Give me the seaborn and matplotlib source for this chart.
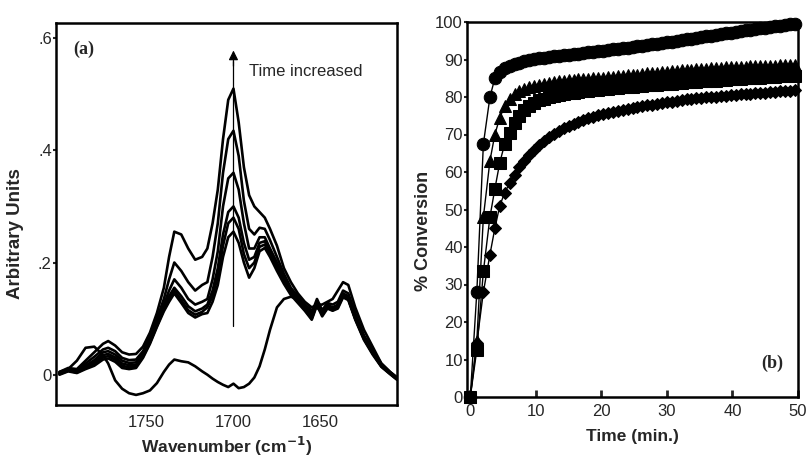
import matplotlib
matplotlib.use("Agg")
import matplotlib.pyplot as plt
import numpy as np
import pandas as pd
import seaborn as sns

# ---- (a) FTIR spectra -------------------------------------------------
wavenumber = [1800, 1795, 1790, 1785, 1780, 1775, 1772, 1768, 1764, 1760,
              1756, 1752, 1748, 1744, 1740, 1737, 1734, 1730, 1726, 1722,
              1718, 1715, 1712, 1709, 1706, 1703, 1700, 1697, 1694, 1691,
              1688, 1685, 1682, 1679, 1675, 1671, 1667, 1663, 1659, 1655,
              1652, 1649, 1646, 1643, 1640, 1637, 1634, 1630, 1625, 1620,
              1615, 1610, 1606]

spec_initial = [0.003, 0.010, 0.025, 0.048, 0.050, 0.035, 0.020, -0.010, -0.025, -0.033,
                -0.036, -0.033, -0.028, -0.015, 0.005, 0.018, 0.027, 0.024, 0.022, 0.015,
                0.006, 0.000, -0.007, -0.013, -0.018, -0.022, -0.016, -0.024, -0.022, -0.016,
                -0.005, 0.015, 0.045, 0.080, 0.120, 0.135, 0.139, 0.135, 0.125, 0.115,
                0.120, 0.110, 0.120, 0.115, 0.122, 0.140, 0.135, 0.100, 0.064, 0.038,
                0.015, 0.002, -0.008]

spec_t1 = [0.000, 0.006, 0.003, 0.010, 0.016, 0.027, 0.029, 0.023, 0.012, 0.010,
           0.012, 0.030, 0.055, 0.085, 0.113, 0.130, 0.145, 0.128, 0.110, 0.102,
           0.108, 0.110, 0.130, 0.160, 0.210, 0.245, 0.255, 0.235, 0.200, 0.173,
           0.190, 0.220, 0.226, 0.210, 0.185, 0.162, 0.142, 0.128, 0.114, 0.098,
           0.124, 0.104, 0.118, 0.114, 0.118, 0.138, 0.133, 0.098, 0.062, 0.036,
           0.014, 0.001, -0.009]

spec_t2 = [0.001, 0.007, 0.004, 0.012, 0.019, 0.031, 0.033, 0.027, 0.016, 0.013,
           0.015, 0.032, 0.057, 0.087, 0.116, 0.135, 0.150, 0.133, 0.115, 0.107,
           0.112, 0.120, 0.140, 0.175, 0.230, 0.270, 0.280, 0.260, 0.215, 0.190,
           0.200, 0.228, 0.232, 0.215, 0.190, 0.166, 0.145, 0.130, 0.116, 0.100,
           0.126, 0.106, 0.120, 0.116, 0.120, 0.140, 0.135, 0.100, 0.064, 0.038,
           0.015, 0.002, -0.008]

spec_t3 = [0.002, 0.008, 0.005, 0.014, 0.022, 0.035, 0.037, 0.031, 0.020, 0.017,
           0.018, 0.035, 0.060, 0.090, 0.120, 0.140, 0.155, 0.140, 0.122, 0.113,
           0.118, 0.125, 0.150, 0.190, 0.250, 0.290, 0.300, 0.280, 0.235, 0.205,
           0.210, 0.235, 0.238, 0.220, 0.195, 0.170, 0.148, 0.132, 0.118, 0.103,
           0.128, 0.108, 0.122, 0.118, 0.123, 0.142, 0.137, 0.102, 0.066, 0.040,
           0.016, 0.003, -0.007]

spec_t4 = [0.003, 0.009, 0.006, 0.016, 0.026, 0.040, 0.042, 0.036, 0.025, 0.021,
           0.022, 0.038, 0.064, 0.095, 0.125, 0.150, 0.170, 0.155, 0.135, 0.125,
           0.130, 0.135, 0.170, 0.220, 0.300, 0.350, 0.360, 0.330, 0.270, 0.225,
           0.225, 0.245, 0.245, 0.225, 0.200, 0.175, 0.150, 0.135, 0.120, 0.105,
           0.130, 0.110, 0.125, 0.120, 0.125, 0.145, 0.140, 0.105, 0.068, 0.042,
           0.018, 0.004, -0.006]

spec_t5 = [0.005, 0.010, 0.008, 0.020, 0.032, 0.045, 0.048, 0.042, 0.030, 0.026,
           0.027, 0.042, 0.068, 0.100, 0.135, 0.170, 0.200, 0.185, 0.165, 0.150,
           0.160, 0.165, 0.210, 0.270, 0.360, 0.420, 0.435, 0.390, 0.310, 0.260,
           0.250, 0.262, 0.260, 0.240, 0.210, 0.180, 0.155, 0.140, 0.125, 0.110,
           0.135, 0.115, 0.128, 0.125, 0.130, 0.150, 0.145, 0.110, 0.070, 0.045,
           0.020, 0.005, -0.005]

spec_t6 = [0.005, 0.012, 0.010, 0.025, 0.040, 0.055, 0.060, 0.052, 0.040, 0.036,
           0.037, 0.050, 0.075, 0.110, 0.155, 0.210, 0.255, 0.250, 0.225, 0.205,
           0.210, 0.225, 0.270, 0.330, 0.420, 0.490, 0.510, 0.450, 0.370, 0.320,
           0.300, 0.290, 0.280, 0.260, 0.230, 0.190, 0.165, 0.145, 0.130, 0.120,
           0.125, 0.125, 0.130, 0.135, 0.150, 0.165, 0.160, 0.120, 0.080, 0.050,
           0.020, 0.005, -0.005]

spectra = [spec_initial, spec_t1, spec_t2, spec_t3, spec_t4, spec_t5, spec_t6]

# ---- (b) conversion vs time --------------------------------------------
time_min = [0, 1, 2, 3, 3.75, 4.5, 5.25, 6, 6.75, 7.5,
            8.25, 9, 9.75, 10.5, 11.25, 12, 12.75, 13.5, 14.25, 15,
            15.75, 16.5, 17.25, 18, 18.75, 19.5, 20.25, 21, 21.75, 22.5,
            23.25, 24, 24.75, 25.5, 26.25, 27, 27.75, 28.5, 29.25, 30,
            30.75, 31.5, 32.25, 33, 33.75, 34.5, 35.25, 36, 36.75, 37.5,
            38.25, 39, 39.75, 40.5, 41.25, 42, 42.75, 43.5, 44.25, 45,
            45.75, 46.5, 47.25, 48, 48.75, 49.5]

conv_circle = [0, 28, 67.5, 80, 85, 86.8, 87.8, 88.4, 88.8, 89.2,
               89.5, 89.8, 90.1, 90.3, 90.5, 90.7, 90.9, 91.0, 91.2, 91.3,
               91.5, 91.6, 91.8, 91.9, 92.1, 92.2, 92.4, 92.5, 92.7, 92.9,
               93.0, 93.2, 93.4, 93.5, 93.7, 93.9, 94.1, 94.2, 94.4, 94.6,
               94.8, 95.0, 95.2, 95.4, 95.6, 95.8, 96.0, 96.2, 96.4, 96.6,
               96.8, 97.0, 97.2, 97.4, 97.6, 97.8, 98.0, 98.2, 98.3, 98.5,
               98.7, 98.9, 99.0, 99.2, 99.4, 99.6]

conv_triangle = [0, 15, 48, 63, 70, 74.5, 77.5, 79.5, 80.7, 81.5,
                 82.1, 82.6, 83.0, 83.3, 83.6, 83.8, 84.0, 84.2, 84.3, 84.5,
                 84.6, 84.7, 84.8, 84.9, 85.0, 85.1, 85.2, 85.3, 85.4, 85.5,
                 85.7, 85.8, 85.9, 86.0, 86.2, 86.3, 86.4, 86.5, 86.6, 86.8,
                 86.9, 87.0, 87.1, 87.2, 87.3, 87.4, 87.5, 87.6, 87.7, 87.8,
                 87.8, 87.9, 88.0, 88.0, 88.1, 88.1, 88.2, 88.2, 88.3, 88.3,
                 88.4, 88.4, 88.5, 88.5, 88.6, 88.6]

conv_square = [0, 12.6, 33.5, 48, 55.5, 62.5, 67.5, 70.5, 73, 75,
               76.5, 77.5, 78.4, 79.1, 79.6, 80.0, 80.3, 80.6, 80.8, 81.0,
               81.2, 81.4, 81.5, 81.7, 81.8, 82.0, 82.1, 82.2, 82.3, 82.5,
               82.6, 82.7, 82.8, 82.9, 83.0, 83.1, 83.2, 83.3, 83.4, 83.5,
               83.6, 83.7, 83.8, 83.9, 84.0, 84.1, 84.2, 84.3, 84.3, 84.4,
               84.5, 84.6, 84.7, 84.8, 84.9, 85.0, 85.0, 85.1, 85.2, 85.3,
               85.3, 85.4, 85.5, 85.5, 85.6, 85.7]

conv_diamond = [0, 14.5, 28, 38, 45, 51, 54.5, 57, 59.3, 61.3,
                63, 64.6, 66, 67.2, 68.3, 69.3, 70.2, 71.0, 71.7, 72.3,
                72.9, 73.4, 73.9, 74.3, 74.7, 75.1, 75.4, 75.7, 76.0, 76.3,
                76.6, 76.9, 77.2, 77.4, 77.6, 77.8, 78.0, 78.2, 78.4, 78.6,
                78.8, 79.0, 79.2, 79.4, 79.5, 79.7, 79.8, 79.9, 80.0, 80.1,
                80.3, 80.4, 80.5, 80.6, 80.7, 80.8, 80.9, 81.0, 81.1, 81.2,
                81.3, 81.4, 81.5, 81.6, 81.7, 81.8]

series = [
    (conv_circle, "o", 9),
    (conv_triangle, "^", 9),
    (conv_square, "s", 8),
    (conv_diamond, "D", 6.5),
]

sns.set_style("ticks")
plt.rcParams["font.family"] = ["Liberation Sans", "DejaVu Sans"]
plt.rcParams["mathtext.default"] = "bf"

fig = plt.figure(figsize=(8.1, 4.59), dpi=100)
ax_a = fig.add_axes([56 / 810, 1 - 405 / 459, 341 / 810, 382 / 459])
ax_b = fig.add_axes([467 / 810, 1 - 397 / 459, 331 / 810, 375 / 459])

# panel (a)
for curve in spectra:
    sns.lineplot(x=wavenumber, y=curve, ax=ax_a, color="black",
                 linewidth=1.9, sort=False, estimator=None)

ax_a.set_xlim(1802, 1606)
ax_a.set_ylim(-0.054, 0.627)
ax_a.set_xticks([1750, 1700, 1650])
ax_a.set_yticks([0, 0.2, 0.4, 0.6])
ax_a.set_yticklabels(["0", ".2", ".4", ".6"])
ax_a.tick_params(axis="x", length=0, labelsize=12, pad=7)
ax_a.tick_params(axis="y", length=2, width=1.5, labelsize=12, pad=1)
ax_a.set_xlabel("Wavenumber (cm$^{-1}$)", fontsize=12.5, fontweight="bold", labelpad=4)
ax_a.set_ylabel("Arbitrary Units", fontsize=13.5, fontweight="bold")
ax_a.yaxis.set_label_coords(-0.093, 0.45)

ax_a.plot([1700, 1700], [0.086, 0.56], color="black", linewidth=0.9)
ax_a.annotate("", xy=(1700, 0.578), xytext=(1700, 0.55),
              arrowprops=dict(arrowstyle="-|>", color="black", lw=0.9,
                              mutation_scale=14, shrinkA=0, shrinkB=0))
ax_a.text(1691, 0.541, "Time increased", fontsize=12, va="center", ha="left")
ax_a.text(0.05, 0.93, "(a)", transform=ax_a.transAxes, fontsize=13,
          fontweight="bold", family="Liberation Serif", va="center")

# panel (b)
for values, marker, ms in series:
    sns.lineplot(x=time_min, y=values, ax=ax_b, color="black", linewidth=1,
                 marker=marker, markersize=ms, markeredgecolor="black",
                 sort=False, estimator=None, clip_on=False)

ax_b.set_xlim(-0.5, 50)
ax_b.set_ylim(0, 100)
ax_b.set_xticks([0, 10, 20, 30, 40, 50])
ax_b.set_yticks(np.arange(0, 101, 10))
ax_b.tick_params(axis="x", direction="in", length=5, width=2, labelsize=12, pad=5)
ax_b.tick_params(axis="y", length=2, width=1.5, labelsize=12, pad=1)
ax_b.set_xlabel("Time (min.)", fontsize=12.5, fontweight="bold", labelpad=7)
ax_b.set_ylabel("% Conversion", fontsize=13, fontweight="bold")
ax_b.yaxis.set_label_coords(-0.106, 0.443)
ax_b.text(0.89, 0.09, "(b)", transform=ax_b.transAxes, fontsize=13,
          fontweight="bold", family="Liberation Serif", va="center")

for ax in (ax_a, ax_b):
    for side in ("left", "right", "top", "bottom"):
        ax.spines[side].set_visible(True)
        ax.spines[side].set_linewidth(1.8)
        ax.spines[side].set_color("black")

fig.savefig("out.png", dpi=100)
